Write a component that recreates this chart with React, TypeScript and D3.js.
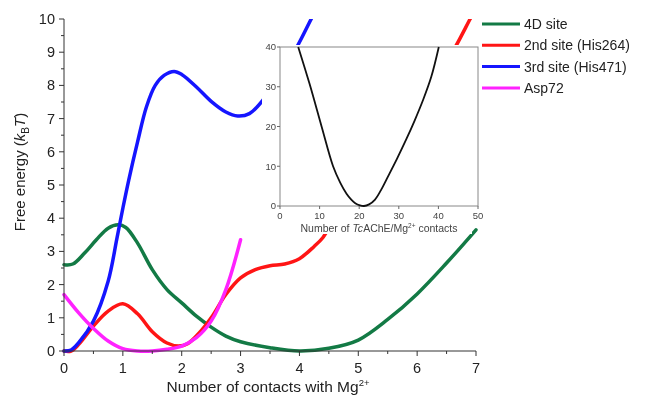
import React, { useEffect, useRef } from "react";
import * as d3 from "d3";

// free energy curves, [contacts, kBT]
const site4D = [
  [0, 2.6], [0.15, 2.62], [0.35, 2.95], [0.55, 3.35], [0.75, 3.7], [0.92, 3.8], [1.05, 3.72],
  [1.25, 3.25], [1.5, 2.45], [1.75, 1.85], [2.0, 1.45], [2.25, 1.05], [2.5, 0.72], [2.75, 0.45],
  [3.0, 0.28], [3.5, 0.1], [4.0, 0.0], [4.5, 0.08], [5.0, 0.33], [5.5, 0.95], [6.0, 1.72],
  [6.5, 2.65], [7.0, 3.65],
];
const site2nd = [
  [0, 0], [0.12, 0.0], [0.25, 0.2], [0.5, 0.75], [0.75, 1.2], [1.0, 1.42], [1.25, 1.12],
  [1.5, 0.58], [1.75, 0.24], [1.95, 0.15], [2.1, 0.22], [2.3, 0.55], [2.5, 1.0], [2.75, 1.7],
  [3.0, 2.2], [3.25, 2.45], [3.5, 2.57], [3.75, 2.62], [4.0, 2.78], [4.25, 3.15], [4.4, 3.42],
  [4.6, 4.0], [5.0, 5.0], [5.5, 6.3], [6.0, 7.5], [6.5, 8.7], [6.9, 10.0], [7.1, 10.7],
];
const site3rd = [
  [0, 0], [0.12, 0.03], [0.25, 0.25], [0.5, 0.9], [0.75, 2.1], [0.9, 3.4], [1.0, 4.3],
  [1.1, 5.15], [1.25, 6.3], [1.4, 7.35], [1.55, 8.0], [1.7, 8.3], [1.87, 8.42], [2.0, 8.33],
  [2.25, 7.95], [2.5, 7.52], [2.75, 7.2], [2.95, 7.08], [3.15, 7.15], [3.4, 7.6], [3.7, 8.4],
  [3.97, 9.2], [4.2, 10.0], [4.35, 10.5],
];
const asp72 = [
  [0, 1.7], [0.25, 1.15], [0.5, 0.68], [0.75, 0.3], [1.0, 0.07], [1.25, 0.0], [1.5, 0.0],
  [1.75, 0.05], [2.0, 0.15], [2.25, 0.4], [2.5, 0.9], [2.75, 1.85], [3.0, 3.35],
];
const seriesNames = ["4D site", "2nd site (His264)", "3rd site (His471)", "Asp72"];
const seriesColors = ["#137a45", "#ff1515", "#1515ff", "#ff22ff"];
const seriesData = [site4D, site2nd, site3rd, asp72];

// inset: total contacts profile
const insetCurve = [
  [4.6, 40], [7.5, 30.6], [10.5, 20], [13.4, 10], [15.2, 5.9], [16.8, 3.1], [18.0, 1.6],
  [19.0, 0.7], [20.2, 0.15], [21.2, 0], [22.5, 0.4], [24.0, 1.6], [25.5, 4.0], [27.0, 6.9],
  [29.5, 11.8], [31.9, 16.8], [34.0, 21.5], [36.1, 26.6], [38.2, 32.5], [40.1, 40],
];

const xTicks = [0, 1, 2, 3, 4, 5, 6, 7];
const yTicks = [0, 1, 2, 3, 4, 5, 6, 7, 8, 9, 10];
const insetXTicks = [0, 10, 20, 30, 40, 50];
const insetYTicks = [0, 10, 20, 30, 40];

const FONT = "'Liberation Sans', Arial, sans-serif";

export default function App() {
  const ref = useRef<SVGSVGElement>(null);

  useEffect(() => {
    const svg = d3.select(ref.current);
    svg.selectAll("*").remove();

    const x = d3.scaleLinear().domain([0, 7]).range([64, 476]);
    const y = d3.scaleLinear().domain([0, 10]).range([351, 19]);

    svg
      .append("defs")
      .append("clipPath")
      .attr("id", "plotclip")
      .append("rect")
      .attr("x", 60)
      .attr("y", 19)
      .attr("width", 425)
      .attr("height", 345);

    const line = d3
      .line<number[]>()
      .x((d) => x(d[0]))
      .y((d) => y(d[1]))
      .curve(d3.curveCatmullRom.alpha(0.5));

    const curves = svg.append("g").attr("clip-path", "url(#plotclip)");
    seriesData.forEach((s, i) => {
      curves
        .append("path")
        .attr("d", line(s))
        .attr("fill", "none")
        .attr("stroke", seriesColors[i])
        .attr("stroke-width", 3.5)
        .attr("stroke-linecap", "round");
    });

    // axes
    const axisColor = "#333";
    const yAxis = svg.append("g").attr("transform", "translate(64,0)");
    yAxis.append("line").attr("y1", y(10)).attr("y2", y(0) + 0.5).attr("stroke", axisColor);
    d3.range(0, 10.01, 0.5).forEach((v) => {
      const major = Math.abs(v - Math.round(v)) < 1e-6;
      yAxis
        .append("line")
        .attr("x1", major ? -5 : -3)
        .attr("x2", 0)
        .attr("y1", y(v))
        .attr("y2", y(v))
        .attr("stroke", axisColor);
    });
    yTicks.forEach((v) => {
      yAxis
        .append("text")
        .attr("x", -9)
        .attr("y", y(v))
        .attr("dy", "0.35em")
        .attr("text-anchor", "end")
        .style("font-family", FONT)
        .style("font-size", "14.5px")
        .attr("fill", "#222")
        .text(v);
    });

    const xAxis = svg.append("g").attr("transform", "translate(0,351)");
    xAxis.append("line").attr("x1", x(0)).attr("x2", x(7)).attr("stroke", axisColor);
    d3.range(0, 7.01, 0.5).forEach((v) => {
      const major = Math.abs(v - Math.round(v)) < 1e-6;
      xAxis
        .append("line")
        .attr("x1", x(v))
        .attr("x2", x(v))
        .attr("y1", 0)
        .attr("y2", major ? 5 : 3)
        .attr("stroke", axisColor);
    });
    xTicks.forEach((v) => {
      xAxis
        .append("text")
        .attr("x", x(v))
        .attr("y", 22)
        .attr("text-anchor", "middle")
        .style("font-family", FONT)
        .style("font-size", "14.5px")
        .attr("fill", "#222")
        .text(v);
    });

    // x title
    const xt = svg
      .append("text")
      .attr("x", 268)
      .attr("y", 392)
      .attr("text-anchor", "middle")
      .style("font-family", FONT)
      .style("font-size", "15.5px")
      .attr("fill", "#222");
    xt.append("tspan").text("Number of contacts with Mg");
    xt.append("tspan").attr("dy", -6).style("font-size", "9.5px").text("2+");

    // y title
    const yt = svg
      .append("text")
      .attr("transform", "translate(25,172) rotate(-90)")
      .attr("text-anchor", "middle")
      .style("font-family", FONT)
      .style("font-size", "15px")
      .attr("fill", "#222");
    yt.append("tspan").text("Free energy (");
    yt.append("tspan").style("font-style", "italic").text("k");
    yt.append("tspan").attr("dy", 4).style("font-size", "10px").text("B");
    yt.append("tspan").attr("dy", -4).style("font-style", "italic").text("T");
    yt.append("tspan").text(")");

    // legend
    const legend = svg.append("g");
    seriesNames.forEach((name, i) => {
      const ly = 24 + i * 21.3;
      legend
        .append("line")
        .attr("x1", 482)
        .attr("x2", 520)
        .attr("y1", ly)
        .attr("y2", ly)
        .attr("stroke", seriesColors[i])
        .attr("stroke-width", 3);
      legend
        .append("text")
        .attr("x", 524)
        .attr("y", ly)
        .attr("dy", "0.36em")
        .style("font-family", FONT)
        .style("font-size", "14px")
        .attr("fill", "#222")
        .text(name);
    });

    // inset
    const ix = d3.scaleLinear().domain([0, 50]).range([280, 478]);
    const iy = d3.scaleLinear().domain([0, 40]).range([206, 47]);
    const inset = svg.append("g");
    inset
      .append("rect")
      .attr("x", 262)
      .attr("y", 45)
      .attr("width", 210)
      .attr("height", 189)
      .attr("fill", "#fff");
    inset
      .append("rect")
      .attr("x", ix(0))
      .attr("y", iy(40))
      .attr("width", ix(50) - ix(0))
      .attr("height", iy(0) - iy(40))
      .attr("fill", "#fff")
      .attr("stroke", "#888")
      .attr("stroke-width", 1);
    const insetLine = d3
      .line<number[]>()
      .x((d) => ix(d[0]))
      .y((d) => iy(d[1]))
      .curve(d3.curveCatmullRom.alpha(0.5));
    inset
      .append("path")
      .attr("d", insetLine(insetCurve))
      .attr("fill", "none")
      .attr("stroke", "#111")
      .attr("stroke-width", 1.8);
    insetYTicks.forEach((v) => {
      inset
        .append("line")
        .attr("x1", ix(0) - 3)
        .attr("x2", ix(0))
        .attr("y1", iy(v))
        .attr("y2", iy(v))
        .attr("stroke", "#666");
      inset
        .append("text")
        .attr("x", ix(0) - 4)
        .attr("y", iy(v))
        .attr("dy", "0.35em")
        .attr("text-anchor", "end")
        .style("font-family", FONT)
        .style("font-size", "9.5px")
        .attr("fill", "#444")
        .text(v);
    });
    insetXTicks.forEach((v) => {
      inset
        .append("line")
        .attr("x1", ix(v))
        .attr("x2", ix(v))
        .attr("y1", iy(0))
        .attr("y2", iy(0) + 3)
        .attr("stroke", "#666");
      inset
        .append("text")
        .attr("x", ix(v))
        .attr("y", iy(0) + 13)
        .attr("text-anchor", "middle")
        .style("font-family", FONT)
        .style("font-size", "9.5px")
        .attr("fill", "#444")
        .text(v);
    });
    const ixt = inset
      .append("text")
      .attr("x", 379)
      .attr("y", 232)
      .attr("text-anchor", "middle")
      .style("font-family", FONT)
      .style("font-size", "10.5px")
      .attr("fill", "#444");
    ixt.append("tspan").text("Number of ");
    ixt.append("tspan").style("font-style", "italic").text("Tc");
    ixt.append("tspan").text("AChE/Mg");
    ixt.append("tspan").attr("dy", -4).style("font-size", "6.5px").text("2+");
    ixt.append("tspan").attr("dy", 4).text(" contacts");
  }, []);

  return (
    <div style={{ position: "fixed", left: 0, top: 0, width: 645, height: 397 }}>
      <svg ref={ref} width={645} height={397} style={{ display: "block" }}></svg>
    </div>
  );
}
